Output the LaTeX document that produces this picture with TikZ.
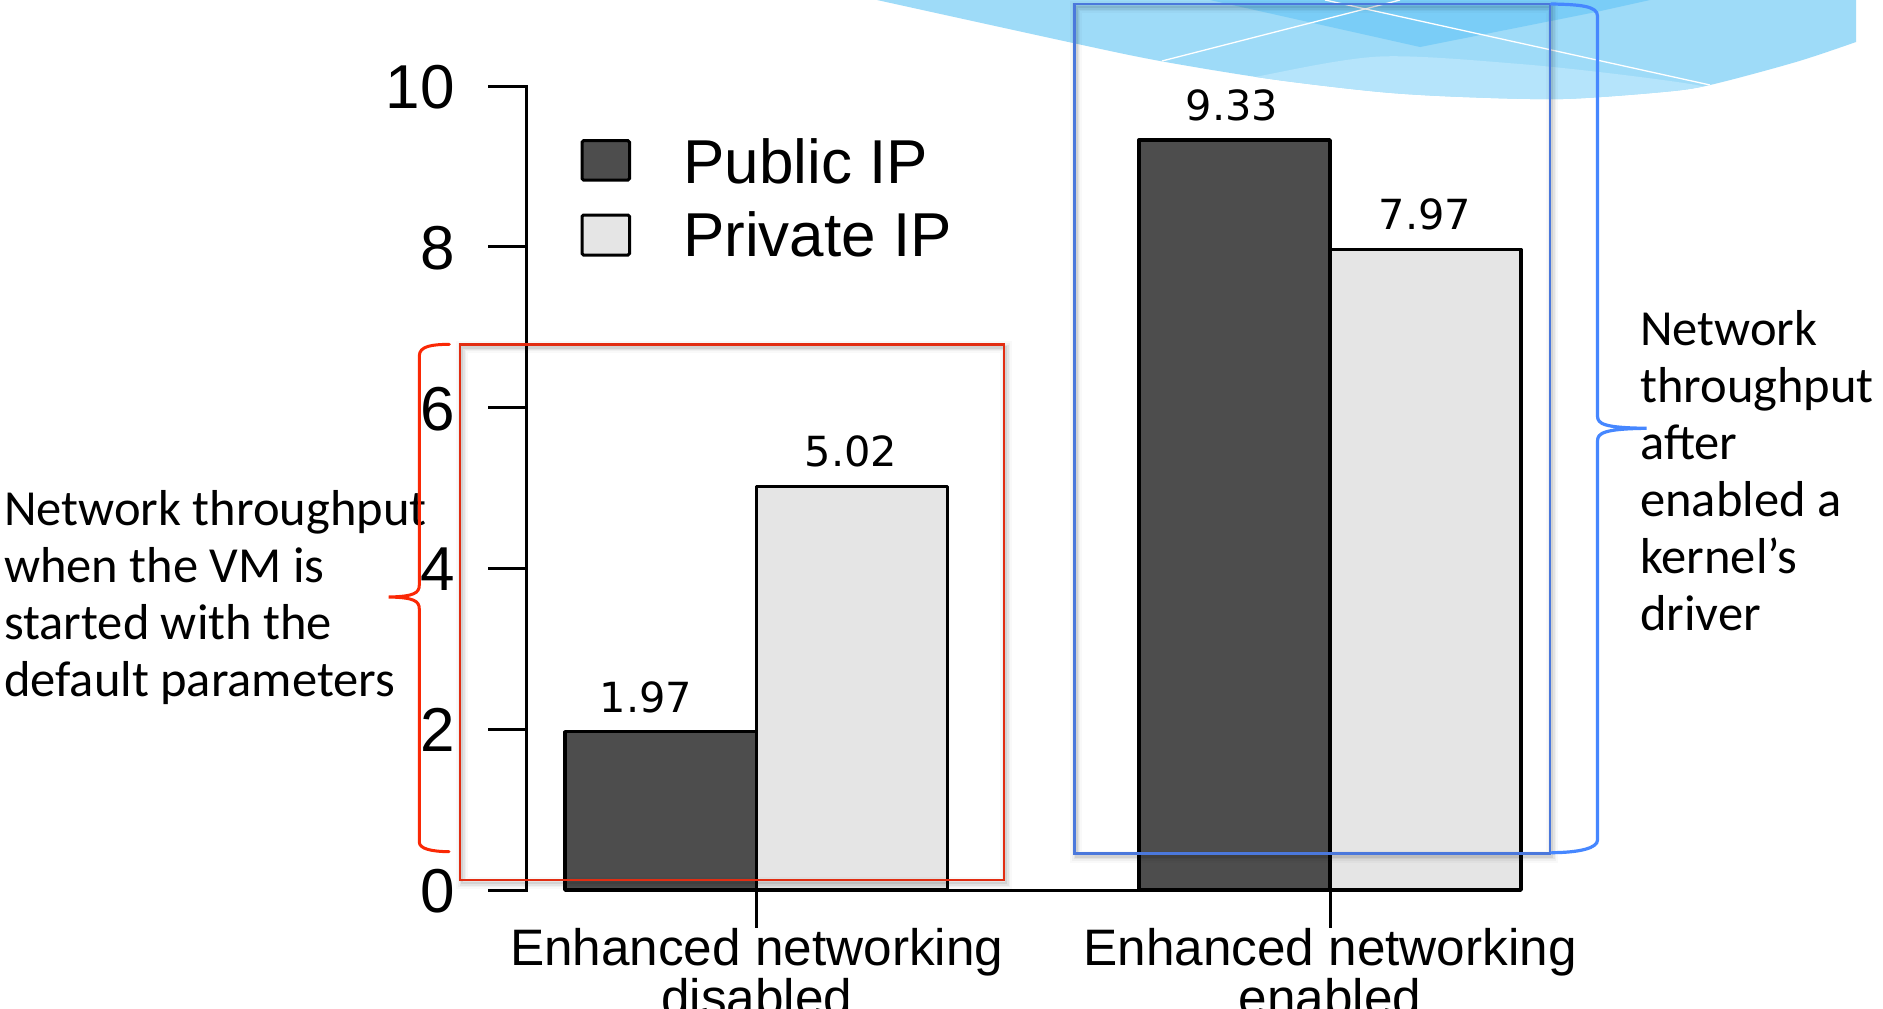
\documentclass[tikz,border=0pt]{standalone}
\usepackage{fontspec}
\setmainfont{Liberation Sans}
\newfontfamily\notefont{Carlito}
\newfontfamily\valfont{DejaVu Sans}

\definecolor{barDark}{RGB}{77,77,77}
\definecolor{barLight}{RGB}{229,229,229}
\definecolor{skyBase}{RGB}{158,219,248}
\definecolor{skyDeep}{RGB}{122,205,247}
\definecolor{skyPale}{RGB}{181,228,251}
\definecolor{markRed}{RGB}{226,45,18}
\definecolor{braceRed}{RGB}{250,40,5}
\definecolor{markBlue}{RGB}{75,120,220}
\definecolor{braceBlue}{RGB}{70,135,255}

\begin{document}
\begin{tikzpicture}[x=1pt,y=-1pt,
  barbox/.style={draw=black, line width=3.4pt, line join=round},
  axisline/.style={draw=black, line width=3pt},
  ticklabel/.style={font=\fontsize{62}{74}\selectfont, anchor=base east, inner sep=0pt},
  valuelabel/.style={font=\valfont\fontsize{41.5}{50}\selectfont, anchor=base, inner sep=0pt},
  catlabel/.style={font=\fontsize{51.3}{60}\selectfont, anchor=base, inner sep=0pt},
  legendkey/.style={draw=black, line width=3pt, rounded corners=1.5pt},
  legendlabel/.style={font=\fontsize{62}{74}\selectfont, anchor=base west, inner sep=0pt},
  notetext/.style={font=\notefont\fontsize{50.5}{57}\selectfont, anchor=base west, inner sep=0pt},
  redframe/.style={draw=markRed, line width=2.4pt},
  blueframe/.style={draw=markBlue, line width=2.4pt},
  redbrace/.style={draw=braceRed, line width=3pt, line cap=round},
  bluebrace/.style={draw=braceBlue, line width=3.2pt, line cap=round},
  skyline/.style={draw=white, line width=1.3pt}
]
\useasboundingbox (0,0) rectangle (1883,1009);
\clip (0,0) rectangle (1883,1009);
\fill[white] (0,0) rectangle (1883,1009);

% --- sky-blue banner at the top edge ---
\begin{scope}
  \clip plot[smooth] coordinates {(877,0) (1073,43) (1160,61) (1270,79) (1380,92)
        (1463,97) (1563,99) (1663,92) (1710,85) (1796,62) (1856,42)} -- (1856,0) -- cycle;
  \fill[skyBase] (870,0) rectangle (1860,110);
  \fill[skyPale] plot[smooth] coordinates {(1180,95) (1260,76) (1380,56.5) (1520,64)
        (1640,77) (1720,90) (1780,115)} -- (1780,120) -- (1180,120) -- cycle;
  \fill[skyDeep] (1210,0) -- (1380,38) -- (1420,47) -- (1596,12) -- (1650,0) -- cycle;
  \draw[skyline] (1162,61) -- (1400,0);
  \draw[skyline] (1325,0) -- (1710,85);
\end{scope}

% --- bars ---
\draw[barbox, fill=barDark]  (565,890)   rectangle (756.7,731.7);
\draw[barbox, fill=barLight] (756.7,890) rectangle (947.5,486.5);
\draw[barbox, fill=barDark]  (1139,890)  rectangle (1330,140);
\draw[barbox, fill=barLight] (1330,890)  rectangle (1521,249.4);

% --- value labels ---
\node[valuelabel] (v1) at (646,712)    {1.97};
\node[valuelabel] (v2) at (851,466.5)  {5.02};
\node[valuelabel] (v3) at (1232,120)   {9.33};
\node[valuelabel] (v4) at (1425,229.5) {7.97};

% --- y axis ---
\draw[axisline] (488,86.2) -- (526.7,86.2) -- (526.7,890) -- (488,890);
\foreach \v in {2,4,6,8} {
  \pgfmathsetmacro{\ty}{890-80.38*\v}
  \draw[axisline] (488,\ty) -- (526.7,\ty);
}
\foreach \v in {0,2,4,6,8,10} {
  \pgfmathsetmacro{\ty}{890-80.38*\v+22.3}
  \node[ticklabel] (ytick\v) at (455,\ty) {\v};
}

% --- x axis ---
\draw[axisline] (756.7,890) -- (1330,890);
\draw[axisline] (756.7,890) -- (756.7,928);
\draw[axisline] (1330,890) -- (1330,928);
\node[catlabel] (cat1a) at (756.7,965)  {Enhanced networking};
\node[catlabel] (cat1b) at (756.7,1015) {disabled};
\node[catlabel] (cat2a) at (1330,965)   {Enhanced networking};
\node[catlabel] (cat2b) at (1330,1015)  {enabled};

% --- legend ---
\draw[legendkey, fill=barDark]  (582,140.7) rectangle (629.5,180);
\draw[legendkey, fill=barLight] (582,215)   rectangle (629.5,255);
\node[legendlabel] (lgpub)  at (683,183.3) {Public IP};
\node[legendlabel] (lgpriv) at (683,256.7) {Private IP};

% --- notes ---
\node[notetext] (noteleft) at (4,525)
  {\vtop{\hbox{Network throughput}\hbox{when the VM is}\hbox{started with the}\hbox{default parameters}}};
\node[notetext] (noteright) at (1640,345)
  {\vtop{\hbox{Network}\hbox{throughput}\hbox{after}\hbox{enabled a}\hbox{kernel’s}\hbox{driver}}};

% --- soft shadows under the frames ---
\foreach \w/\o in {12/0.025,8/0.035,5/0.05,2.5/0.07} {
  \draw[draw=black, draw opacity=\o, line width=\w pt] (462,347.3) rectangle (1006,883);
  \draw[draw=black, draw opacity=\o, line width=\w pt] (1076.3,7) rectangle (1552,856.5);
}

% --- highlight frames ---
\draw[redframe]  (460,344.3) rectangle (1004,880);
\draw[blueframe] (1074.3,4)  rectangle (1550,853.5);

% --- braces ---
\draw[redbrace] (449.3,344.3) .. controls (432,344.5) and (419.3,346) .. (419.3,356)
  -- (419.3,585) .. controls (419.3,593) and (414,596.5) .. (388.6,597)
  .. controls (414,597.5) and (419.3,601) .. (419.3,609)
  -- (419.3,842) .. controls (419.3,849) and (432,851.5) .. (449,851.7);
\draw[bluebrace] (1551.3,4) .. controls (1580,4.5) and (1597.5,6) .. (1597.5,16)
  -- (1597.5,416) .. controls (1597.5,424) and (1604,427.8) .. (1646.7,428.3)
  .. controls (1604,428.8) and (1597.5,433) .. (1597.5,441)
  -- (1597.5,840) .. controls (1597.5,848) and (1580,852.5) .. (1551.7,852.7);
\end{tikzpicture}
\end{document}
